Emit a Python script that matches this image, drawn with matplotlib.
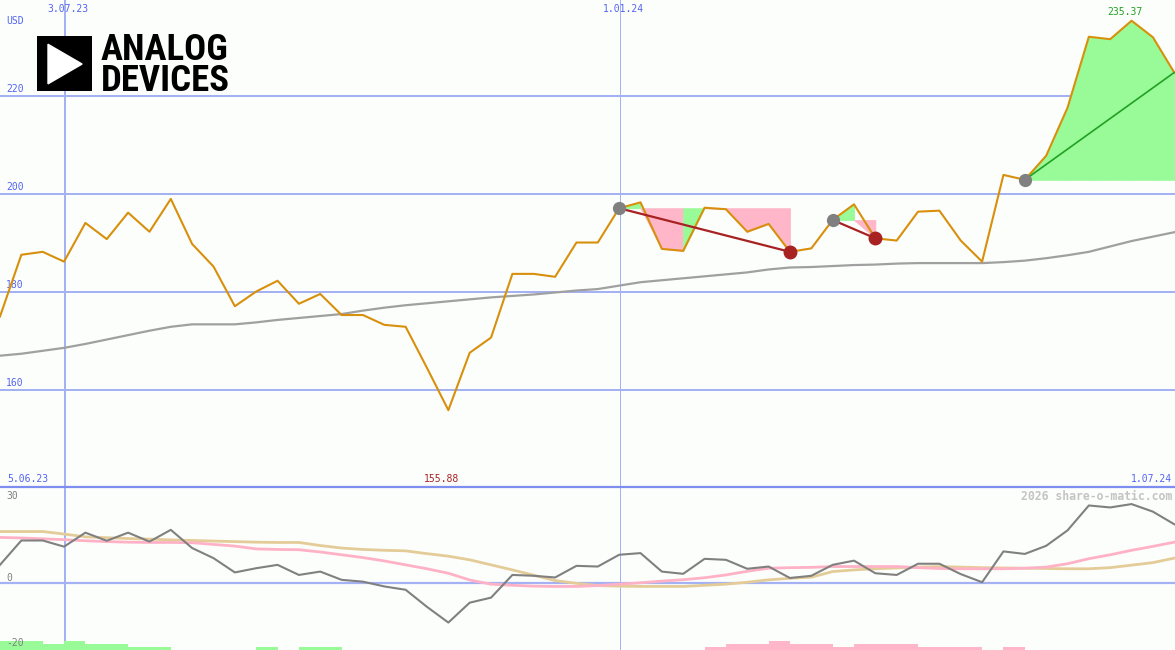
import matplotlib
matplotlib.use("Agg")
import matplotlib.pyplot as plt
from matplotlib.patches import Polygon
from matplotlib import font_manager
import numpy as np

# weekly closes, USD
price = [175.0, 187.6, 188.2, 186.2, 194.1, 190.8, 196.2, 192.3, 199.0, 189.8,
         185.2, 177.1, 180.1, 182.3, 177.6, 179.6, 175.3, 175.3, 173.3, 172.9,
         164.5, 155.88, 167.6, 170.7, 183.7, 183.7, 183.1, 190.1, 190.1, 197.1,
         198.3, 188.8, 188.4, 197.2, 196.9, 192.3, 193.9, 188.2, 188.9, 194.7,
         197.9, 190.96, 190.5, 196.4, 196.6, 190.5, 186.2, 203.9, 202.9, 207.8,
         217.6, 232.1, 231.6, 235.37, 232.0, 224.8]
# long moving average
avg_long = [167.0, 167.4, 168.0, 168.6, 169.4, 170.3, 171.2, 172.1, 172.9, 173.4,
            173.4, 173.4, 173.8, 174.3, 174.7, 175.1, 175.5, 176.2, 176.8, 177.3,
            177.7, 178.1, 178.5, 178.9, 179.2, 179.5, 179.9, 180.3, 180.6, 181.3,
            182.0, 182.4, 182.8, 183.2, 183.6, 184.0, 184.6, 185.0, 185.1, 185.3,
            185.5, 185.6, 185.8, 185.9, 185.9, 185.9, 185.9, 186.1, 186.4, 186.9,
            187.5, 188.2, 189.3, 190.4, 191.3, 192.2]
# trades: (entry week, exit week or None)
trades = [(29, 37), (39, 41), (48, None)]

# lower panel indicators
momentum = [6.6, 15.3, 15.3, 13.1, 18.1, 15.2, 18.1, 14.9, 19.1, 12.6,
            9.0, 3.9, 5.4, 6.6, 3.0, 4.2, 1.25, 0.6, -1.1, -2.3,
            -8.4, -14.0, -6.9, -5.1, 3.0, 2.7, 2.1, 6.25, 6.0, 10.2,
            10.8, 4.2, 3.4, 8.75, 8.4, 5.2, 6.0, 1.9, 2.7, 6.6,
            8.1, 3.6, 3.0, 7.0, 7.0, 3.3, 0.4, 11.4, 10.5, 13.4,
            18.9, 27.8, 27.1, 28.3, 25.6, 21.1]
signal_fast = [16.4, 16.2, 15.9, 15.6, 15.2, 14.9, 14.7, 14.6, 14.6, 14.5,
               13.9, 13.3, 12.3, 12.1, 12.0, 11.2, 10.2, 9.2, 8.0, 6.6,
               5.2, 3.6, 1.2, -0.3, -0.7, -1.0, -1.1, -1.1, -0.8, -0.3,
               0.2, 0.8, 1.3, 2.0, 3.0, 4.3, 5.4, 5.6, 5.7, 6.0,
               6.0, 6.0, 6.0, 5.6, 5.3, 5.2, 5.2, 5.2, 5.4, 5.8,
               7.0, 8.8, 10.2, 11.8, 13.2, 14.7]
signal_slow = [18.5, 18.5, 18.5, 17.6, 16.6, 16.3, 16.0, 15.8, 15.5, 15.3,
               15.1, 14.9, 14.7, 14.6, 14.6, 13.5, 12.6, 12.1, 11.8, 11.6,
               10.6, 9.7, 8.4, 6.6, 4.8, 2.9, 1.0, 0.0, -0.8, -1.0,
               -1.1, -1.1, -1.1, -0.7, -0.3, 0.4, 1.25, 1.8, 2.2, 4.2,
               4.8, 5.2, 5.5, 5.8, 6.0, 5.8, 5.6, 5.5, 5.4, 5.3,
               5.2, 5.2, 5.6, 6.5, 7.4, 9.0]
bars_up = [3.2, 3.2, 2.1, 3.2, 2.1, 2.1, 1.1, 1.1, 0, 0, 0, 0, 1.1, 0, 1.1, 1.1] + [0] * 40
bars_down = [0] * 33 + [1.1, 2.1, 2.1, 3.2, 2.1, 2.1, 1.1, 2.1, 2.1, 2.1,
                        1.1, 1.1, 1.1, 0, 1.1] + [0] * 8

price_grid = [220, 200, 180, 160]
date_lines = [(3.04, "3.07.23", 1.44), (29.04, "1.01.24", 0.72)]
start_label, end_label = "5.06.23", "1.07.24"

bg = "#fcfefc"
grid = "#a4b2f4"
blue = "#5464f0"
orange = "#d8900c"
green_fill = "#98fb98"
pink_fill = "#ffb6c8"
dark_red = "#a82222"

W, H = 1175, 650
fig = plt.figure(figsize=(W / 100, H / 100), dpi=100, facecolor=bg)
split = 487 / H
ax = fig.add_axes([0, 1 - split, 1, split], facecolor=bg)
ax2 = fig.add_axes([0, 0, 1, 1 - split], facecolor=bg)

x = np.arange(len(price))
xmax = W / 21.35
for a in (ax, ax2):
    a.set_xlim(0, xmax)
    a.set_xticks([])
    a.set_yticks([])
    for s in a.spines.values():
        s.set_visible(False)
    for xv, _, lw in date_lines:
        a.axvline(xv, color=grid, lw=lw, zorder=0)

ax.set_ylim(140.2, 239.6)
ax2.set_ylim(-23.8, 34.4)

for v in price_grid:
    ax.axhline(v, color=grid, lw=1.44, zorder=0)
    ax.annotate(str(v), (0, v), xytext=(6, 2), textcoords="offset pixels",
                color=blue, fontsize=7, family="DejaVu Sans Mono", va="bottom")

# trade shading and lines
pa = np.array(price)
for entry, exit_ in trades:
    level = pa[entry]
    end = exit_ if exit_ is not None else len(pa) - 1
    for i in range(entry, end):
        seg = pa[i:i + 2]
        if seg[1] >= level:
            ax.fill_between([i, i + 1], level, seg, facecolor=green_fill,
                            edgecolor=green_fill, lw=0.6, zorder=1)
        else:
            ax.fill_between([i, i + 1], level, np.minimum(seg, level),
                            facecolor=pink_fill, edgecolor=pink_fill, lw=0.6, zorder=1)
    if exit_ is None:
        ax.fill_between([end, xmax], level, [pa[end], pa[end]], facecolor=green_fill,
                        edgecolor=green_fill, lw=0.6, zorder=1)
        ax.plot([entry, end], [level, pa[end]], color="#22a022", lw=1.2, zorder=4)
    else:
        ax.plot([entry, exit_], [level, pa[exit_]], color=dark_red, lw=1.6, zorder=4)

ax.plot(x, avg_long, color="#a0a0a0", lw=1.6, zorder=2)
ax.plot(x, price, color=orange, lw=1.5, zorder=3)

for entry, exit_ in trades:
    ax.plot(entry, pa[entry], "o", color="#808080", ms=8.5, zorder=5)
    if exit_ is not None:
        ax.plot(exit_, pa[exit_], "o", color=dark_red, ms=9, zorder=5)

imax, imin = int(np.argmax(pa)), int(np.argmin(pa))
ax.annotate(f"{pa[imax]:.2f}", (imax, pa[imax]), xytext=(-7, 4), textcoords="offset pixels",
            ha="center", va="bottom", color="#22a022", fontsize=7, family="DejaVu Sans Mono")

# lower panel
ax2.axhline(0, color=grid, lw=1.6, zorder=0)
ax2.plot(x, signal_slow, color="#e4cc98", lw=2.0, zorder=2)
ax2.plot(x, signal_fast, color="#ffb2c6", lw=2.0, zorder=2)
ax2.plot(x, momentum, color="#808080", lw=1.5, zorder=3)
ybot = ax2.get_ylim()[0]
ax2.bar(x, bars_up, width=1, align="edge", bottom=ybot, color=green_fill, lw=0, zorder=1)
ax2.bar(x, bars_down, width=1, align="edge", bottom=ybot, color=pink_fill, lw=0, zorder=1)

# separator
fig.add_artist(plt.Line2D([0, 1], [1 - split, 1 - split], transform=fig.transFigure,
                          color="#7d8ef0", lw=1.6))


def px(xp, yp):
    return xp / W, 1 - yp / H


mono = dict(family="DejaVu Sans Mono", fontsize=7)
fig.text(*px(6, 21), "USD", color=blue, va="center", **mono)
for xv, lab, _ in date_lines:
    fig.text(xv * 21.35 / W + 3 / W, 1 - 9 / H, lab, color=blue, ha="center", va="center", **mono)
fig.text(*px(7, 479), start_label, color=blue, va="center", **mono)
fig.text(*px(1172, 479), end_label, color=blue, ha="right", va="center", **mono)
fig.text(imin * 21.35 / W - 7 / W, 1 - 479 / H, f"{pa[imin]:.2f}", color=dark_red,
         ha="center", va="center", **mono)
fig.text(*px(6, 496), "30", color="#808080", va="center", **mono)
fig.text(*px(6, 578), "0", color="#808080", va="center", **mono)
fig.text(*px(6, 643), "-20", color="#808080", va="center", **mono)
fig.text(*px(1172, 496), "2026 share-o-matic.com", color="#c4c4c4", ha="right", va="center",
         family="DejaVu Sans Mono", fontsize=8.3, weight="bold")

# logo
lax = fig.add_axes([37 / W, 1 - 91 / H, 55 / W, 55 / H])
lax.set_xlim(0, 1)
lax.set_ylim(0, 1)
lax.set_facecolor("black")
lax.set_xticks([])
lax.set_yticks([])
for s in lax.spines.values():
    s.set_visible(False)
lax.add_patch(Polygon([[0.2, 0.85], [0.2, 0.13], [0.82, 0.49]], closed=True, color="white"))

names = {f.name for f in font_manager.fontManager.ttflist}
logo_font = "Liberation Sans"
for cand in ["Liberation Sans Narrow", "Roboto Condensed", "Open Sans Condensed", "Arial Narrow"]:
    if cand in names:
        logo_font = cand
        break
renderer = fig.canvas.get_renderer()
logo_size = 26.5
fp = font_manager.FontProperties(family=logo_font, weight="bold", size=logo_size)
_, lp_h, _ = renderer.get_text_width_height_descent("lp", fp, ismath=False)
t = fig.text(*px(101, 91), "ANALOG\nDEVICES", fontproperties=fp, color="black",
             va="baseline", ha="left", linespacing=29 / lp_h)
if t.get_window_extent(renderer).width > 133:
    t.set_fontsize(logo_size * 133 / t.get_window_extent(renderer).width)

fig.savefig("out.png", dpi=100, facecolor=bg)
